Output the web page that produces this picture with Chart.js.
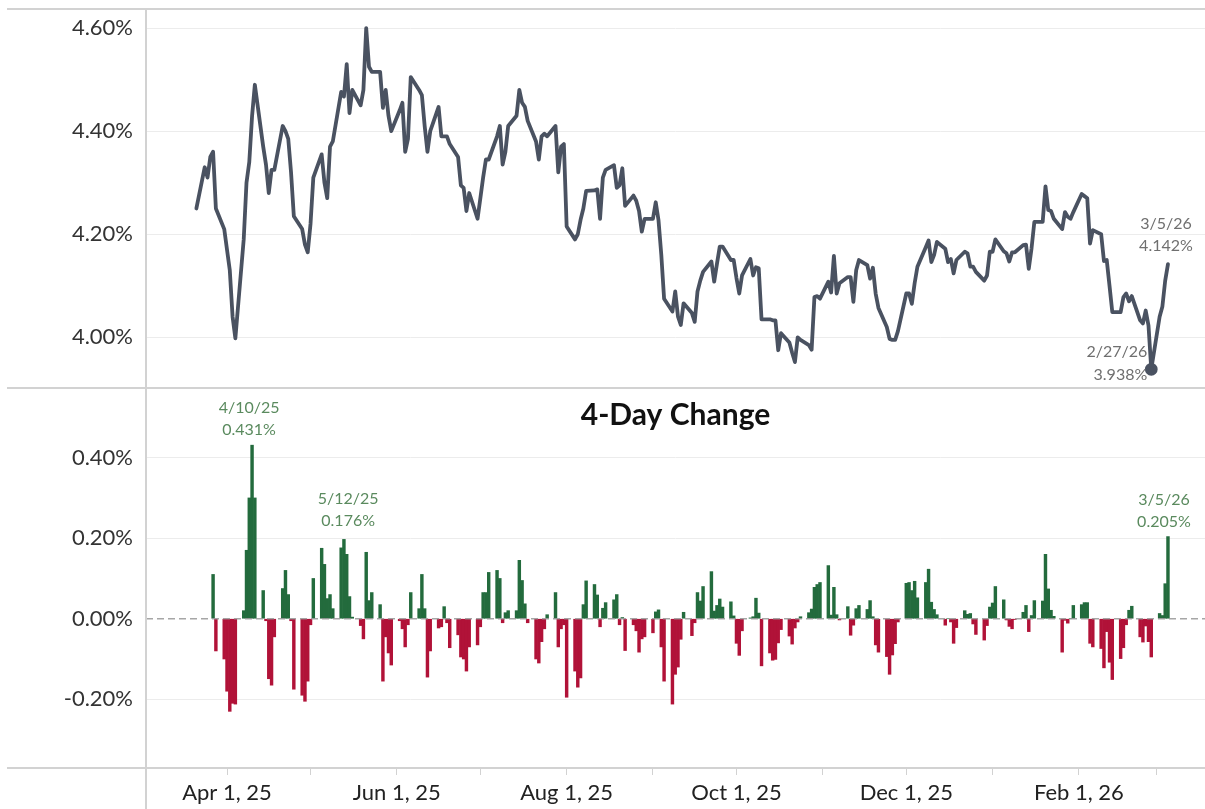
<!DOCTYPE html>
<html>
<head>
<meta charset="utf-8">
<script src="https://cdn.jsdelivr.net/npm/chart.js@4.4.1/dist/chart.umd.min.js"></script>
<style>
  html, body { margin: 0; padding: 0; background: #fff; }
  #wrap { position: relative; width: 1205px; height: 809px; overflow: hidden; }
  #yieldChart { position: absolute; left: 0; top: 0; }
  #changeChart { position: absolute; left: 0; top: 388px; }
</style>
</head>
<body>
<div id="wrap">
  <canvas id="yieldChart" width="1205" height="389"></canvas>
  <canvas id="changeChart" width="1205" height="421"></canvas>
</div>
<script>
// daily closes, one value per weekday (market holidays repeat the prior close)
const yMar25 = [4.25, 4.33, 4.31, 4.35, 4.36, 4.25, 4.21];
const yApr25 = [4.17, 4.13, 4.04, 3.998, 4.19, 4.30, 4.34, 4.429, 4.49, 4.37, 4.335, 4.28, 4.325, 4.325,
  4.41, 4.40, 4.385, 4.32, 4.235, 4.21, 4.18, 4.165];
const yMay25 = [4.22, 4.31, 4.355, 4.30, 4.27, 4.37, 4.38, 4.476, 4.467, 4.53, 4.435, 4.48, 4.45, 4.48,
  4.60, 4.525, 4.515, 4.515, 4.445, 4.48, 4.43, 4.40];
const yJun25 = [4.44, 4.455, 4.36, 4.385, 4.505, 4.48, 4.47, 4.41, 4.36, 4.40, 4.447, 4.39, 4.39, 4.39,
  4.375, 4.35, 4.295, 4.29, 4.245, 4.28, 4.23];
const yJul25 = [4.27, 4.31, 4.345, 4.345, 4.39, 4.41, 4.335, 4.36, 4.41, 4.43, 4.48, 4.455, 4.447, 4.42,
  4.38, 4.345, 4.39, 4.395, 4.39, 4.41, 4.32, 4.37, 4.375];
const yAug25 = [4.215, 4.19, 4.20, 4.228, 4.25, 4.284, 4.285, 4.287, 4.23, 4.31, 4.325, 4.334, 4.29,
  4.295, 4.328, 4.255, 4.275, 4.265, 4.245, 4.205, 4.23];
const ySep25 = [4.23, 4.262, 4.227, 4.16, 4.075, 4.05, 4.089, 4.04, 4.024, 4.066, 4.047, 4.03, 4.089,
  4.11, 4.127, 4.147, 4.108, 4.143, 4.176, 4.176, 4.15, 4.15];
const yOct25 = [4.115, 4.085, 4.12, 4.152, 4.12, 4.136, 4.134, 4.035, 4.035, 4.033, 4.033, 3.975, 4.008,
  3.99, 3.97, 3.952, 4.00, 3.995, 3.985, 3.976, 4.078, 4.08, 4.075];
const yNov25 = [4.108, 4.087, 4.158, 4.085, 4.105, 4.117, 4.117, 4.069, 4.13, 4.15, 4.14, 4.114, 4.135,
  4.085, 4.057, 4.02, 3.997, 3.995, 3.995, 4.012];
const yDec25 = [4.085, 4.085, 4.065, 4.105, 4.137, 4.175, 4.188, 4.146, 4.16, 4.185, 4.172, 4.146, 4.152,
  4.124, 4.15, 4.166, 4.163, 4.137, 4.137, 4.127, 4.11, 4.12, 4.166];
const yJan26 = [4.166, 4.19, 4.167, 4.163, 4.147, 4.165, 4.165, 4.179, 4.18, 4.133, 4.173, 4.224, 4.224,
  4.293, 4.247, 4.245, 4.23, 4.21, 4.243, 4.234, 4.23, 4.243];
const yFeb26 = [4.278, 4.274, 4.27, 4.182, 4.208, 4.20, 4.148, 4.15, 4.10, 4.049, 4.049, 4.078, 4.085,
  4.07, 4.08, 4.033, 4.027, 4.052, 4.023, 3.938];
const yMar26 = [4.04, 4.06, 4.11, 4.142];

const yieldTicks = [4.0, 4.2, 4.4, 4.6];
const changeTicks = [-0.2, 0, 0.2, 0.4];
const tickMonths = [[2025, 4], [2025, 5], [2025, 6], [2025, 7], [2025, 8], [2025, 9], [2025, 10],
  [2025, 11], [2025, 12], [2026, 1], [2026, 2], [2026, 3]];
const tickLabels = ['Apr 1, 25', '', 'Jun 1, 25', '', 'Aug 1, 25', '', 'Oct 1, 25', '', 'Dec 1, 25', '',
  'Feb 1, 26', ''];

const lineNotes = [
  { date: [2026, 2, 27], text: ['2/27/26', '3.938%'] },
  { date: [2026, 3, 5], text: ['3/5/26', '4.142%'] }
];
const barNotes = [
  { date: [2025, 4, 10], text: ['4/10/25', '0.431%'] },
  { date: [2025, 5, 12], text: ['5/12/25', '0.176%'] },
  { date: [2026, 3, 5], text: ['3/5/26', '0.205%'] }
];

const DAY = 86400000;
const dayNum = (y, m, d) => Date.UTC(y, m - 1, d) / DAY;

const months = [
  [2025, 3, 21, yMar25], [2025, 4, 1, yApr25], [2025, 5, 1, yMay25], [2025, 6, 1, yJun25],
  [2025, 7, 1, yJul25], [2025, 8, 1, yAug25], [2025, 9, 1, ySep25], [2025, 10, 1, yOct25],
  [2025, 11, 1, yNov25], [2025, 12, 1, yDec25], [2026, 1, 1, yJan26], [2026, 2, 1, yFeb26],
  [2026, 3, 1, yMar26]
];

const dates = [];
const yields = [];
months.forEach(([y, m, d0, vals]) => {
  let t = dayNum(y, m, d0);
  vals.forEach(v => {
    while ([0, 6].includes(new Date(t * DAY).getUTCDay())) t++;
    dates.push(t);
    yields.push(v);
    t++;
  });
});
const change4 = yields.map((v, i) => (i < 4 ? null : v - yields[i - 4]));

const xMin = dayNum(2025, 3, 3) - 0.1;
const xMax = dayNum(2026, 3, 18) + 0.3;
const tickValues = tickMonths.map(([y, m]) => dayNum(y, m, 1));

const FONT = 'Lato, "Noto Sans", sans-serif';
const GRID = '#ececec';
const FRAME = '#d2d2d2';

const lowIndex = dates.indexOf(dayNum(...lineNotes[0].date));

// keep the plot area exactly where the frame lines are
const noPad = s => { s.paddingTop = 0; s.paddingBottom = 0; s.paddingLeft = 0; s.paddingRight = 0; };

function frame(chart, fromTop) {
  const { ctx, chartArea: a } = chart;
  ctx.save();
  ctx.strokeStyle = FRAME;
  ctx.lineWidth = 2;
  ctx.beginPath();
  ctx.moveTo(a.left, fromTop ? a.top : 0);
  ctx.lineTo(a.left, fromTop ? a.bottom : chart.height);
  if (fromTop) {
    ctx.moveTo(7, a.top); ctx.lineTo(chart.width, a.top);
  }
  ctx.moveTo(7, a.bottom); ctx.lineTo(chart.width, a.bottom);
  ctx.stroke();
  ctx.restore();
}

function drawNote(ctx, lines, x, y1, y2, align, color) {
  ctx.save();
  ctx.font = '16px ' + FONT;
  ctx.fillStyle = color;
  ctx.textAlign = align;
  ctx.textBaseline = 'middle';
  ctx.fillText(lines[0], x, y1);
  ctx.fillText(lines[1], x, y2);
  ctx.restore();
}

const yieldDecor = {
  id: 'yieldDecor',
  afterDraw(chart) {
    frame(chart, true);
    const xs = chart.scales.x, ys = chart.scales.y, ctx = chart.ctx;
    const place = [
      { dx: -4, d1: -17, d2: 6, align: 'right' },
      { dx: -2, d1: -40, d2: -18, align: 'center' }
    ];
    lineNotes.forEach((n, k) => {
      const i = dates.indexOf(dayNum(...n.date));
      const px = xs.getPixelForValue(dates[i]);
      const py = ys.getPixelForValue(yields[i]);
      const p = place[k];
      drawNote(ctx, n.text, px + p.dx, py + p.d1, py + p.d2, p.align, '#6f6f6f');
    });
  }
};

const changeDecor = {
  id: 'changeDecor',
  afterDatasetsDraw(chart) {
    const { ctx, chartArea: a } = chart;
    const ys = chart.scales.y, xs = chart.scales.x;
    const y0 = ys.getPixelForValue(0);
    ctx.save();
    ctx.strokeStyle = 'rgba(150,150,150,0.85)';
    ctx.lineWidth = 1.5;
    ctx.setLineDash([7, 4]);
    ctx.beginPath();
    ctx.moveTo(a.left, y0);
    ctx.lineTo(a.right, y0);
    ctx.stroke();
    ctx.restore();

    ctx.save();
    ctx.font = 'bold 30px ' + FONT;
    ctx.fillStyle = '#111';
    ctx.textAlign = 'center';
    ctx.textBaseline = 'middle';
    ctx.fillText('4-Day Change', (a.left + a.right) / 2, a.top + 27);
    ctx.restore();

    const place = [
      { dx: -3, d1: -37, d2: -15 },
      { dx: 7, d1: -49, d2: -27 },
      { dx: -4, d1: -37, d2: -15 }
    ];
    barNotes.forEach((n, k) => {
      const i = dates.indexOf(dayNum(...n.date));
      const px = xs.getPixelForValue(dates[i]);
      const py = ys.getPixelForValue(change4[i]);
      const p = place[k];
      drawNote(ctx, n.text, px + p.dx, py + p.d1, py + p.d2, 'center', '#5a8a5e');
    });
  },
  afterDraw(chart) {
    frame(chart, false);
  }
};

const yTickStyle = { font: { family: FONT, size: 22 }, color: '#333', padding: 13 };

new Chart(document.getElementById('yieldChart'), {
  type: 'line',
  data: {
    datasets: [{
      data: dates.map((x, i) => ({ x, y: yields[i] })),
      borderColor: '#4a5261',
      backgroundColor: '#4a5261',
      borderWidth: 3.8,
      borderJoinStyle: 'round',
      borderCapStyle: 'round',
      tension: 0,
      pointRadius: ctx => (ctx.dataIndex === lowIndex ? 4.5 : 0),
      pointHoverRadius: 0
    }]
  },
  options: {
    responsive: false,
    animation: false,
    devicePixelRatio: 1,
    layout: { padding: { top: 9, bottom: 1, left: 0, right: 0 } },
    plugins: { legend: { display: false }, tooltip: { enabled: false } },
    scales: {
      x: { type: 'linear', display: false, min: xMin, max: xMax },
      y: {
        min: 3.9017,
        max: 4.637,
        afterFit: s => { s.width = 146; noPad(s); },
        afterBuildTicks: s => { s.ticks = yieldTicks.map(value => ({ value })); },
        grid: { color: GRID, drawTicks: false },
        border: { display: false },
        ticks: { ...yTickStyle, callback: v => v.toFixed(2) + '%' }
      }
    }
  },
  plugins: [yieldDecor]
});

new Chart(document.getElementById('changeChart'), {
  type: 'bar',
  data: {
    datasets: [{
      data: dates.map((x, i) => ({ x, y: change4[i] })).filter(p => p.y !== null),
      backgroundColor: ctx => (ctx.raw && ctx.raw.y < 0 ? '#b11238' : '#236b3d'),
      borderWidth: 0,
      barPercentage: 1,
      categoryPercentage: 1
    }]
  },
  options: {
    responsive: false,
    animation: false,
    devicePixelRatio: 1,
    layout: { padding: 0 },
    plugins: { legend: { display: false }, tooltip: { enabled: false } },
    scales: {
      x: {
        type: 'linear',
        min: xMin,
        max: xMax,
        offset: false,
        afterFit: s => { s.height = 41; noPad(s); },
        afterBuildTicks: s => { s.ticks = tickValues.map(value => ({ value })); },
        grid: { drawOnChartArea: false, drawTicks: true, tickLength: 7, color: FRAME, offset: false },
        border: { display: false },
        ticks: {
          font: { family: FONT, size: 22 },
          color: '#222',
          padding: 5,
          maxRotation: 0,
          autoSkip: false,
          callback: (v, i) => tickLabels[i]
        }
      },
      y: {
        min: -0.3707,
        max: 0.573,
        afterFit: s => { s.width = 146; noPad(s); },
        afterBuildTicks: s => { s.ticks = changeTicks.map(value => ({ value })); },
        grid: { color: c => (c.tick && c.tick.value === 0 ? 'rgba(0,0,0,0)' : GRID), drawTicks: false },
        border: { display: false },
        ticks: { ...yTickStyle, callback: v => v.toFixed(2) + '%' }
      }
    }
  },
  plugins: [changeDecor]
});
</script>
</body>
</html>
